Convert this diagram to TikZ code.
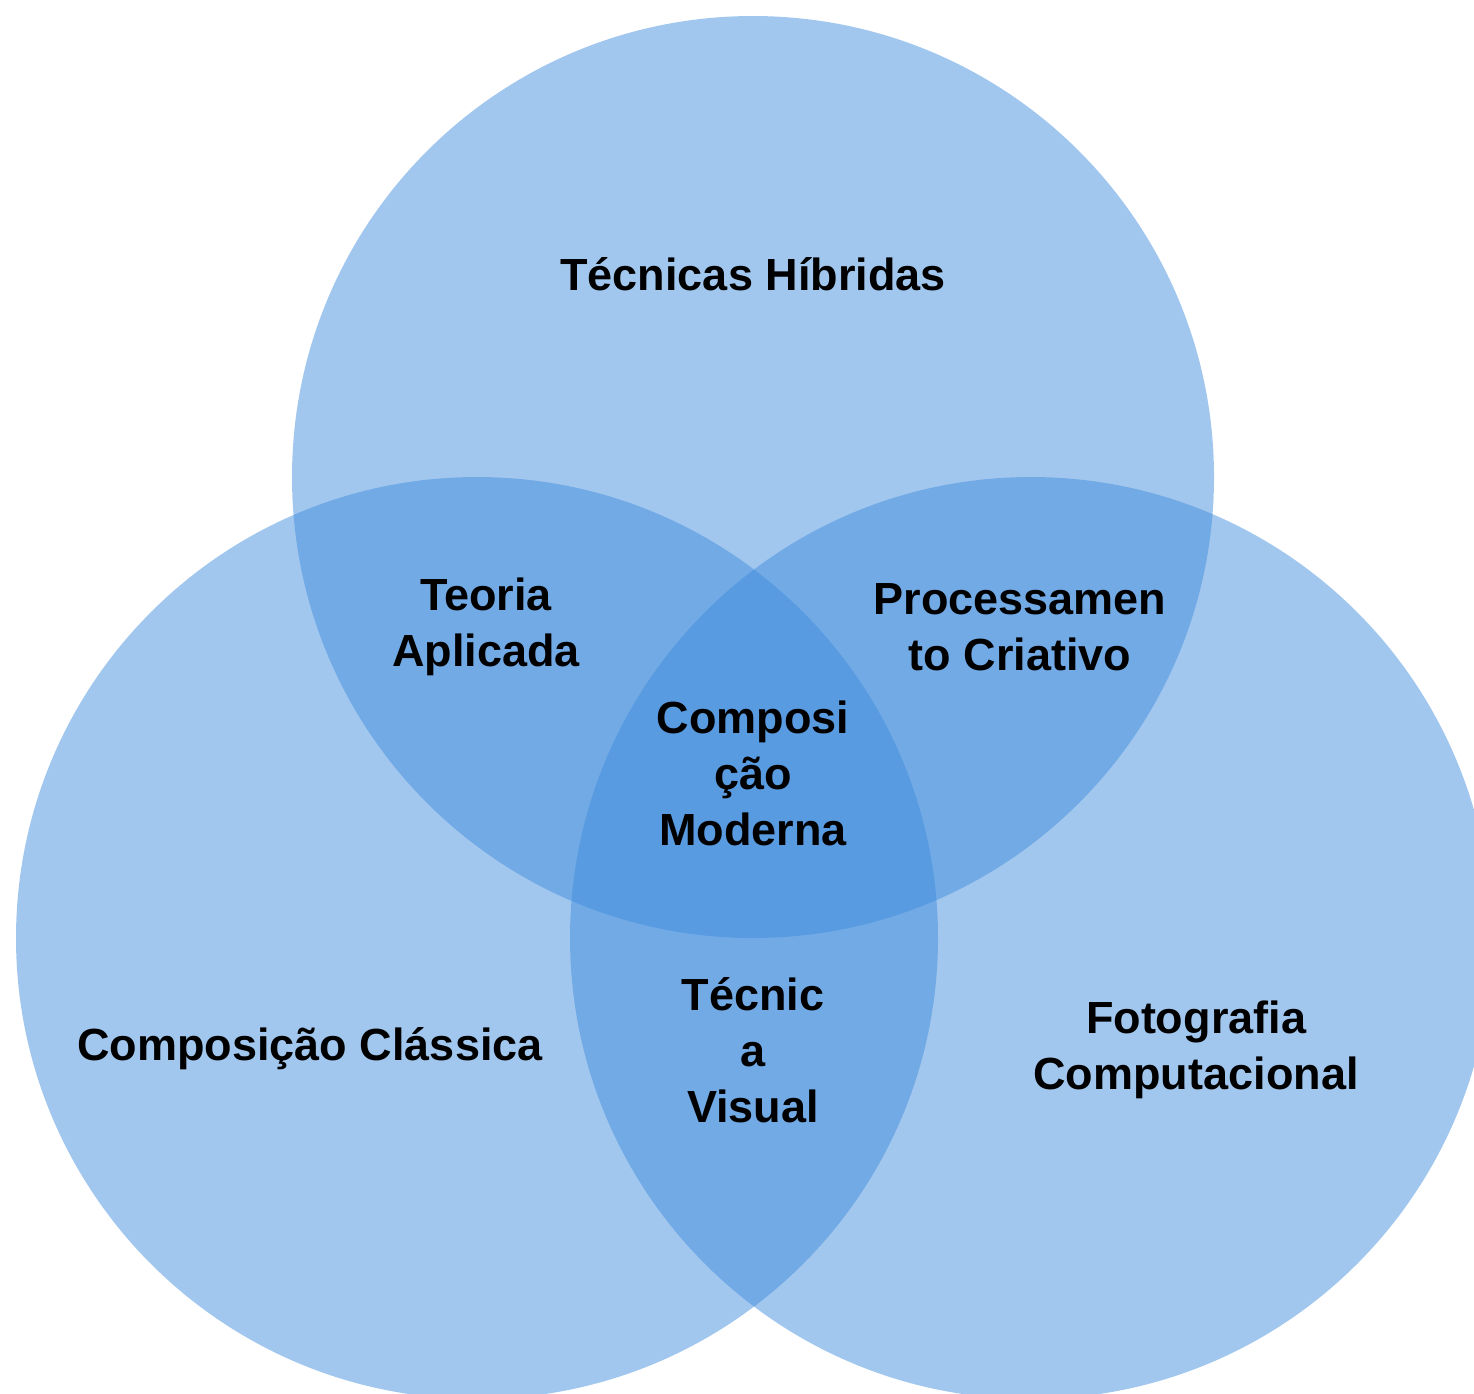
\documentclass[tikz,border=0pt]{standalone}
\usepackage{fontspec}
\setmainfont{Liberation Sans}
\definecolor{vennblue}{RGB}{63,139,220}
\tikzset{
  venn/.style={fill=vennblue,fill opacity=0.484,draw=none},
  lbl/.style={font=\bfseries\fontsize{12.8}{15.9}\selectfont,align=center,text=black,inner sep=0pt}
}
\begin{document}
\begin{tikzpicture}[x=0.01cm,y=-0.01cm]
\useasboundingbox (0,0) rectangle (1474,1393);
\begin{scope}
\clip (0,0) rectangle (1474,1393);
\fill[venn] (753,477) circle[radius=461];
\fill[venn] (477,938) circle[radius=461];
\fill[venn] (1031,938) circle[radius=461];
\end{scope}
\node[lbl] (top) at (753,274) {Técnicas Híbridas};
\node[lbl] (tl) at (486,627) {Teoria\\Aplicada};
\node[lbl] (tr) at (1020,627) {Processamen\\to Criativo};
\node[lbl] (mid) at (753,773) {Composi\\ção\\Moderna};
\node[lbl] (bot) at (753,1050) {Técnic\\a\\Visual};
\node[lbl] (left) at (310,1049) {Composição Clássica};
\node[lbl] (right) at (1196,1050) {Fotografia\\Computacional};
\end{tikzpicture}
\end{document}
